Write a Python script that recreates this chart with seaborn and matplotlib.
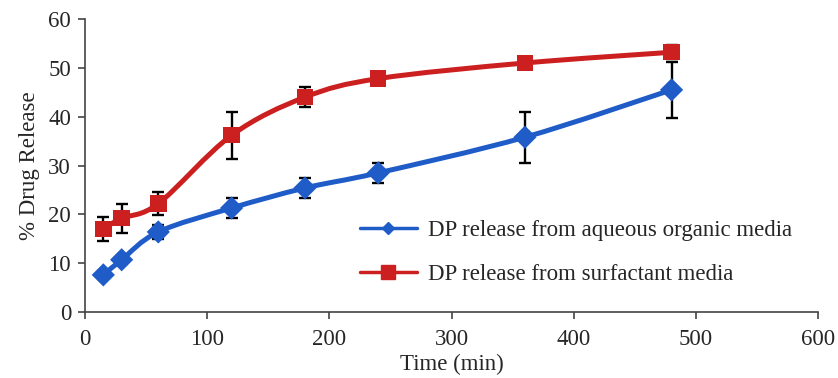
import numpy as np
import pandas as pd
import matplotlib
matplotlib.use("Agg")
import matplotlib.pyplot as plt
import seaborn as sns
from matplotlib.path import Path
from matplotlib.patches import PathPatch
from matplotlib.lines import Line2D

# ---- data ----
time_min = [15, 30, 60, 120, 180, 240, 360, 480]
aqueous = [7.6, 10.7, 16.4, 21.3, 25.4, 28.5, 35.8, 45.5]
aqueous_err = [0.8, 0.8, 1.5, 2.1, 2.1, 2.0, 5.2, 5.8]
surfactant = [17.0, 19.2, 22.2, 36.2, 44.0, 47.8, 51.0, 53.2]
surfactant_err = [2.4, 3.0, 2.3, 4.8, 2.0, 0.6, 0.6, 1.4]
labels = ["DP release from aqueous organic media", "DP release from surfactant media"]
x_ticks = [0, 100, 200, 300, 400, 500, 600]
y_ticks = [0, 10, 20, 30, 40, 50, 60]

BLUE = "#1F5CC8"
RED = "#CC1F1F"

sns.set_style("white")
plt.rcParams["font.family"] = ["Liberation Serif", "DejaVu Serif"]

fig = plt.figure(figsize=(8.38, 3.78), dpi=100)
ax = fig.add_axes([0.1014, 0.1746, 0.875, 0.775])

def smooth_path(xs, ys):
    pts = np.column_stack([xs, ys]).astype(float)
    n = len(pts)
    verts = [pts[0]]
    codes = [Path.MOVETO]
    for i in range(n - 1):
        p0 = pts[i - 1] if i > 0 else pts[i]
        p1 = pts[i]
        p2 = pts[i + 1]
        p3 = pts[i + 2] if i + 2 < n else pts[i + 1]
        c1 = p1 + (p2 - p0) / 6.0
        c2 = p2 - (p3 - p1) / 6.0
        verts += [c1, c2, p2]
        codes += [Path.CURVE4] * 3
    return Path(verts, codes)

df = pd.DataFrame({
    "time": time_min * 2,
    "release": aqueous + surfactant,
    "series": [labels[0]] * len(time_min) + [labels[1]] * len(time_min),
})

# error bars
ax.errorbar(time_min, aqueous, yerr=aqueous_err, fmt="none", ecolor="black",
            elinewidth=1.7, capsize=4.5, capthick=1.7, zorder=2)
ax.errorbar(time_min, surfactant, yerr=surfactant_err, fmt="none", ecolor="black",
            elinewidth=1.7, capsize=4.5, capthick=1.7, zorder=2)

# smooth lines
for ys, c in [(aqueous, BLUE), (surfactant, RED)]:
    ax.add_patch(PathPatch(smooth_path(time_min, ys), fill=False, edgecolor=c,
                           linewidth=3.6, capstyle="round", joinstyle="round", zorder=3))

# markers
sns.scatterplot(data=df, x="time", y="release", hue="series", style="series",
                markers={labels[0]: "D", labels[1]: "s"},
                palette={labels[0]: BLUE, labels[1]: RED},
                s=140, edgecolor="none", linewidth=0, legend=False, ax=ax, zorder=4)

FS = 16.5
ax.set_xlim(0, 600)
ax.set_ylim(0, 60)
ax.set_xticks(x_ticks)
ax.set_yticks(y_ticks)
ax.set_xlabel("Time (min)", fontsize=FS, labelpad=3)
ax.set_ylabel("% Drug Release", fontsize=FS, labelpad=6)
ax.tick_params(axis="both", labelsize=FS, direction="out", length=5, width=1.2,
               color="#444444", left=True, bottom=True)
ax.tick_params(axis="x", pad=7)
ax.tick_params(axis="y", pad=5)
for s in ["top", "right"]:
    ax.spines[s].set_visible(False)
for s in ["left", "bottom"]:
    ax.spines[s].set_color("#444444")
    ax.spines[s].set_linewidth(1.2)

handles = [
    Line2D([], [], color=BLUE, lw=2.5, marker="D", markersize=6),
    Line2D([], [], color=RED, lw=2.5, marker="s", markersize=10),
]
ax.legend(handles, labels, loc="upper left", bbox_to_anchor=(0.362, 0.345),
          frameon=False, fontsize=FS, handlelength=2.5, handletextpad=0.5,
          labelspacing=1.0, borderaxespad=0)

fig.savefig("out.png", dpi=100)
